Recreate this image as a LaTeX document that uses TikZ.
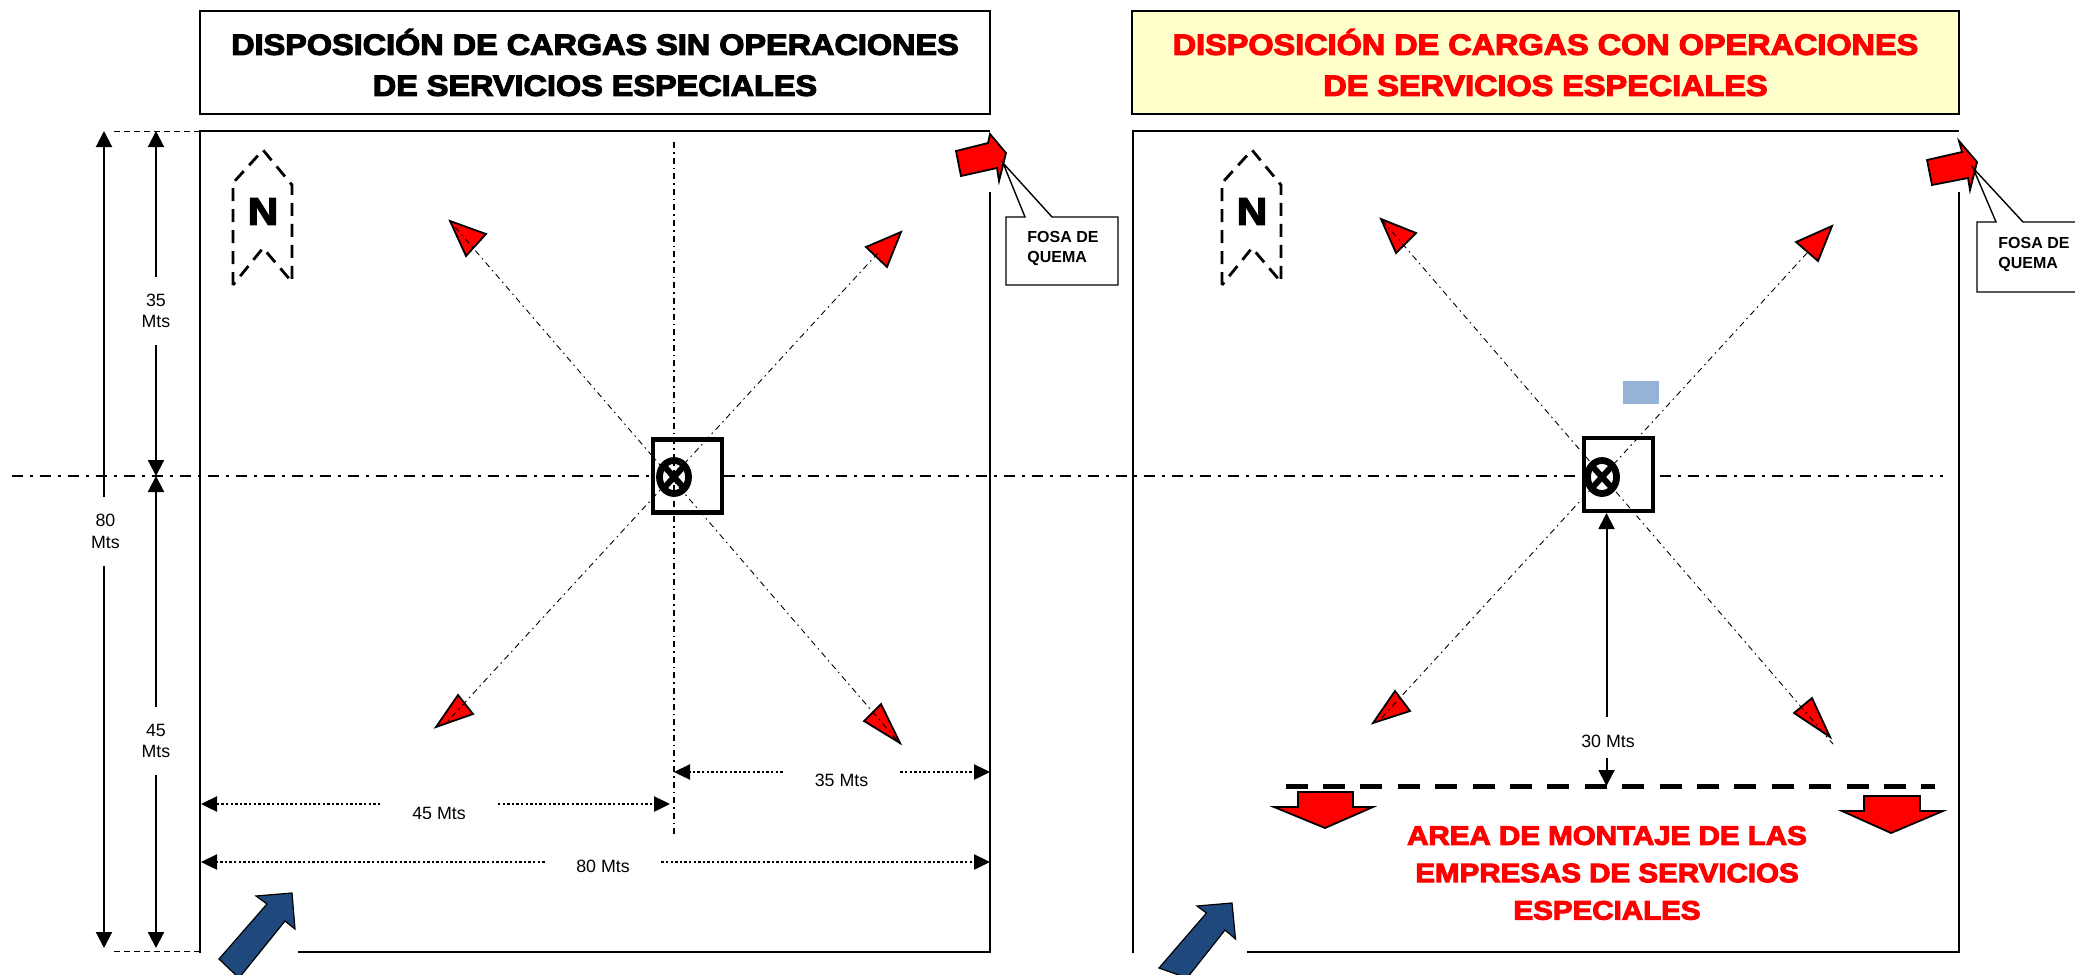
\documentclass[tikz,border=0pt]{standalone}
\usepackage{fontspec}
\usepackage{tikz}
\setmainfont{Liberation Sans}
\newfontfamily\blackfont[UprightFont={* Bold},FakeBold=4,FakeStretch=1.11]{Liberation Sans}
\usetikzlibrary{arrows.meta}
\definecolor{wellblue}{HTML}{1F497D}
\definecolor{noteyellow}{HTML}{FFFFCC}
\definecolor{paleblue}{HTML}{95B3D7}
\tikzstyle{frame} = [line width=1pt]
\tikzstyle{centerline} = [line width=.9pt,dash pattern=on 5.5pt off 3.5pt on 1.5pt off 3.5pt]
\tikzstyle{diagonal} = [line width=.45pt,dash pattern=on 3pt off 2pt on .8pt off 2pt]
\tikzstyle{redshape} = [fill=red,draw=black,line width=.9pt,line join=miter]
\tikzstyle{blueshape} = [fill=wellblue,draw=black,line width=.6pt]
\tikzstyle{dimsolid} = [line width=1pt,>={Triangle[length=8pt,width=8pt]}]
\tikzstyle{dimdotted} = [line width=1.2pt,dash pattern=on 1.2pt off 1.1pt,>={Triangle[length=8pt,width=7.5pt]}]
\tikzstyle{leader} = [line width=.5pt,dash pattern=on 3pt off 2pt]
\begin{document}
\begin{tikzpicture}[x=.5pt,y=-.5pt,
    title node/.style={draw,frame,minimum width=395pt,minimum height=51.5pt,align=center,
      font=\blackfont\fontsize{14.6pt}{20.5pt}\selectfont},
    dim node/.style={font=\fontsize{8.9pt}{10.8pt}\selectfont,align=center,inner sep=0pt},
    note node/.style={font=\bfseries\fontsize{8pt}{10pt}\selectfont,align=left,inner sep=0pt,anchor=north west},
    center node/.style={draw,line width=2.2pt,minimum width=34.5pt,minimum height=36.5pt}]
  \useasboundingbox (0,0) rectangle (2075,974);

  % titles
  \node[title node] (TL) at (595,62.5) {DISPOSICIÓN DE CARGAS SIN OPERACIONES\\DE SERVICIOS ESPECIALES};
  \node[title node,fill=noteyellow,text=red,minimum width=413.5pt] (TR) at (1545.5,62.5) {DISPOSICIÓN DE CARGAS CON OPERACIONES\\DE SERVICIOS ESPECIALES};

  % plots
  \draw[frame] (990,192) -- (990,952) -- (298,952);
  \draw[frame] (200,953) -- (200,131) -- (990,131);
  \draw[frame] (1959,192) -- (1959,952) -- (1247,952);
  \draw[frame] (1133,953) -- (1133,131) -- (1959,131);

  % north signs
  \foreach \x in {263,1252}{
    \draw[line width=1.4pt,dash pattern=on 6.5pt off 4pt]
      ({\x-30},285) -- ({\x-30},183) -- (\x,150) -- ({\x+29},185) -- ({\x+29},282) -- (\x,248) -- cycle;
  }
  \node[font=\blackfont\fontsize{19pt}{19pt}\selectfont,inner sep=0pt] (NL) at (263,211.5) {N};
  \node[font=\blackfont\fontsize{19pt}{19pt}\selectfont,inner sep=0pt] (NR) at (1252,211.5) {N};

  % red triangles, left plot
  \draw[redshape] (450,221) -- (486,234) -- (466,256) -- cycle;
  \draw[redshape] (901,232) -- (866,247) -- (887,267) -- cycle;
  \draw[redshape] (436,727) -- (458,695) -- (473,714) -- cycle;
  \draw[redshape] (900,743) -- (881,704) -- (864,721) -- cycle;
  % red triangles, right plot
  \draw[redshape] (1381,219) -- (1416,233) -- (1396,253) -- cycle;
  \draw[redshape] (1832,226) -- (1796,242) -- (1818,261) -- cycle;
  \draw[redshape] (1373,723) -- (1395,691) -- (1410,711) -- cycle;
  \draw[redshape] (1830,737) -- (1812,698) -- (1794,713) -- cycle;

  \coordinate (NWL) at (455,227);
  \coordinate (SEL) at (902,746);
  \coordinate (NEL) at (878,253);
  \coordinate (SWL) at (446,723);
  \coordinate (NWR) at (1382,220);
  \coordinate (SER) at (1833,744);
  \coordinate (NER) at (1807,253);
  \coordinate (SWR) at (1376,724);
  \foreach \i in {L,R}{
    \path[diagonal] (NW\i) edge (SE\i);
    \path[diagonal] (NE\i) edge (SW\i);
  }
  \coordinate (VT) at (674,142);
  \coordinate (VB) at (674,835);
  \draw[diagonal,line width=.6pt] (VT) -- (VB);

  % wells
  \node[center node] (BOXL) at (687.5,476) {};
  \node[center node] (BOXR) at (1618.5,474.5) {};
  \foreach \x in {674,1602}{
    \draw[line width=3.4pt] (\x,477) ellipse [x radius=14.5,y radius=16.5];
    \draw[line width=3pt] ({\x-10},466) -- ({\x+10},488) ({\x+10},466) -- ({\x-10},488);
  }
  \fill[paleblue] (1623,381) rectangle (1659,404);

  % center line
  \coordinate (HA) at (12,476);
  \coordinate (HB) at (1578,476);
  \coordinate (HC) at (1660,476);
  \coordinate (HD) at (1943,476);
  \draw[centerline] (HA) -- (BOXL.west);
  \draw[centerline] (BOXL.east) -- (HB);
  \draw[centerline] (HC) -- (HD);

  % vertical dimensions
  \node[dim node,minimum height=34.5pt] (D80) at (105.5,531.5) {80\\Mts};
  \node[dim node,minimum height=34pt] (D35) at (156,311) {35\\Mts};
  \node[dim node,minimum height=34pt] (D45) at (156,741) {45\\Mts};
  \coordinate (A80) at (104,131);
  \coordinate (B80) at (104,948);
  \coordinate (A35) at (156,131);
  \coordinate (B35) at (156,476);
  \coordinate (B45) at (156,948);
  \draw[dimsolid,->] (A80 |- D80.north) -- (A80);
  \draw[dimsolid,->] (B80 |- D80.south) -- (B80);
  \draw[dimsolid,->] (D35.north) -- (A35);
  \draw[dimsolid,->] (D35.south) -- (B35);
  \draw[dimsolid,->] (D45.north) -- (B35);
  \draw[dimsolid,->] (D45.south) -- (B45);
  \coordinate (LT) at (200,131);
  \coordinate (LB) at (200,951);
  \draw[leader] (LT) -- (113,131);
  \draw[leader] (LB) -- (113,951);

  % horizontal dimensions
  \begin{scope}
    \clip (783,770) rectangle (900,786) (381,802) rectangle (498,818) (545,858) rectangle (661,872);
    \node[dim node,minimum width=58.5pt] (W35) at (841.5,780) {35 Mts};
    \node[dim node,minimum width=58.5pt] (W45) at (439,813) {45 Mts};
    \node[dim node,minimum width=58pt] (W80) at (603,866) {80 Mts};
  \end{scope}
  \coordinate (A35W) at (674,772);
  \coordinate (B35W) at (990,772);
  \coordinate (A45W) at (201,804);
  \coordinate (B45W) at (670,804);
  \coordinate (A80W) at (201,862);
  \coordinate (B80W) at (990,862);
  \foreach \i in {35,45,80}{
    \draw[dimdotted,->] (A\i W -| W\i.west) -- (A\i W);
    \draw[dimdotted,->] (B\i W -| W\i.east) -- (B\i W);
  }

  % mounting area
  \node[dim node] (D30) at (1608,741) {30 Mts};
  \coordinate (T30) at (1606.5,513);
  \coordinate (S30) at (1606.5,717);
  \coordinate (E30) at (1606.5,786);
  \coordinate (F30) at (1606.5,758);
  \draw[dimsolid,->] (S30) -- (T30);
  \draw[dimsolid,->] (F30) -- (E30);
  \coordinate (MA) at (1285.5,786);
  \coordinate (MB) at (1935,786);
  \draw[line width=2.5pt,dash pattern=on 11pt off 7.7pt] (MA) -- (MB);
  \draw[redshape] (1298,792) -- (1353,792) -- (1353,807) -- (1373,807) -- (1325,828) -- (1274,807) -- (1298,807) -- cycle;
  \draw[redshape] (1864,796) -- (1920,796) -- (1920,811) -- (1943,811) -- (1891,833) -- (1842,811) -- (1864,811) -- cycle;
  \node[font=\blackfont\fontsize{13.3pt}{18.7pt}\selectfont,text=red,align=center,inner sep=0pt] (AREA) at (1607,873)
    {AREA DE MONTAJE DE LAS\\EMPRESAS DE SERVICIOS\\ESPECIALES};

  % burn pit arrows and notes
  \draw[redshape] (956,151) -- (988,143) -- (990,134) -- (1006,153) -- (999,181) -- (997,168) -- (961,176) -- cycle;
  \draw[redshape] (1927,160) -- (1962,152) -- (1959,141) -- (1977,162) -- (1970,190) -- (1968,178) -- (1932,185) -- cycle;
  \draw[frame,fill=white,line width=.7pt] (1006,217) -- (1025,217) -- (1003,163) -- (1052,217) -- (1118,217) -- (1118,285) -- (1006,285) -- cycle;
  \draw[frame,fill=white,line width=.7pt] (1977,222) -- (1996,222) -- (1973,168) -- (2023,222) -- (2089,222) -- (2089,292) -- (1977,292) -- cycle;
  \node[note node] (QL) at (1027,230.5) {FOSA DE\\QUEMA};
  \node[note node] (QR) at (1998,236.5) {FOSA DE\\QUEMA};

  % wind arrows
  \draw[blueshape] (256,896) -- (292,893) -- (295,929) -- (285,921) -- (239,978) -- (219,959) -- (267,904) -- cycle;
  \draw[blueshape] (1197,906) -- (1232,903) -- (1235.5,939) -- (1225,930) -- (1187,978) -- (1159,968) -- (1206.5,913) -- cycle;
\end{tikzpicture}
\end{document}
